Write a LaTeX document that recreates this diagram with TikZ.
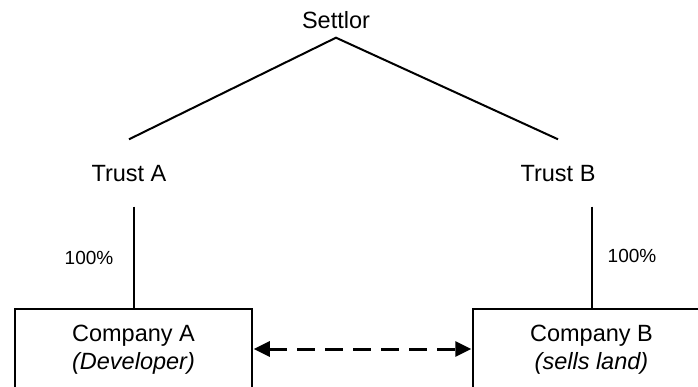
\documentclass[tikz,border=0pt]{standalone}
\usepackage{fontspec}
\setmainfont{Liberation Sans}
\usetikzlibrary{arrows.meta,calc}
\begin{document}
\begin{tikzpicture}[x=1pt,y=-1pt,
  lbl/.style={font=\fontsize{23.5}{28}\selectfont, text height=17pt, text depth=0pt, inner xsep=2pt},
  pct/.style={font=\fontsize{19}{23}\selectfont, inner sep=0pt},
  cbox/.style={draw, line width=1.5pt, minimum width=237pt, minimum height=82pt, align=center, font=\fontsize{23.5}{28}\selectfont, inner sep=0pt},
  ln/.style={line width=2pt},
  dlink/.style={line width=3pt, dash pattern=on 18pt off 10pt, {Triangle[length=16pt,width=15pt]}-{Triangle[length=16pt,width=15pt]}}]
\useasboundingbox (0,0) rectangle (698,387);
\clip (0,0) rectangle (698,387);
\node[lbl, inner ysep=9pt] (S) at (336,20) {Settlor};
\node[lbl, inner ysep=25pt] (TA) at (129,173) {Trust A};
\node[lbl, inner ysep=25pt] (TB) at (558,173) {Trust B};
\node[cbox] (CA) at (133.5,350) {Company A\\\textit{(Developer)}};
\node[cbox] (CB) at (591.5,350) {Company B\\\textit{(sells land)}};
\node[pct] (PA) at (89,258) {100\%};
\node[pct] (PB) at (632,256) {100\%};
\draw[ln] (TA.north) -- (S.south) -- (TB.north);
\draw[ln] (CA.north |- TA.south) -- (CA.north);
\draw[ln] (CB.north |- TB.south) -- (CB.north);
\draw[dlink] ([xshift=1pt,yshift=1pt]CA.east) -- ([xshift=-1pt,yshift=1pt]CB.west);
\end{tikzpicture}
\end{document}
